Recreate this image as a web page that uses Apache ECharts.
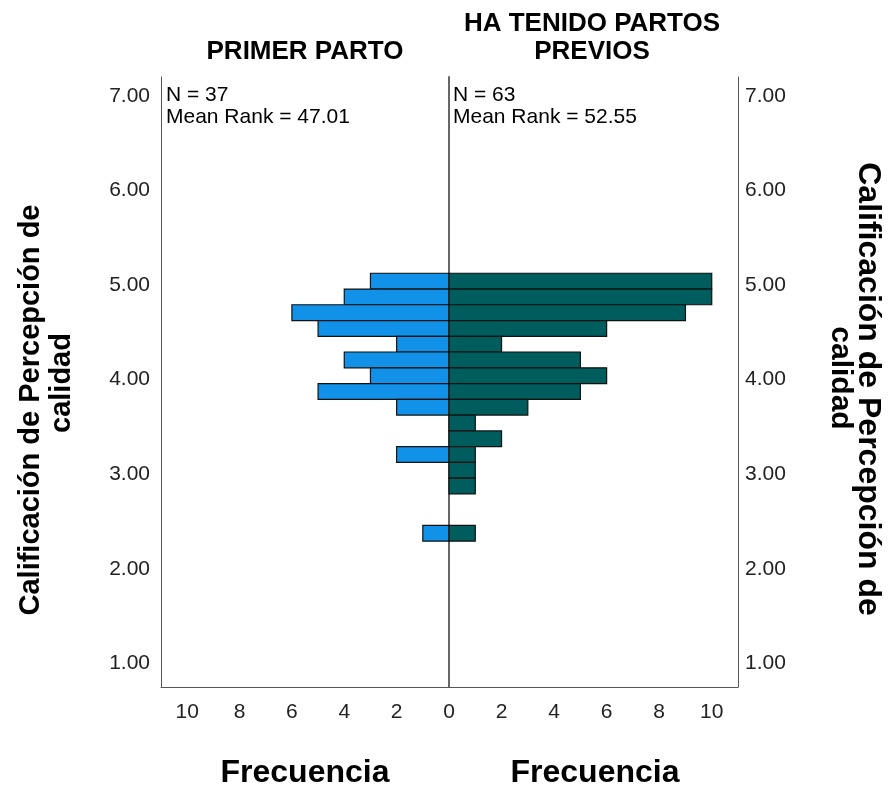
<!DOCTYPE html>
<html><head><meta charset="utf-8">
<script src="https://cdn.jsdelivr.net/npm/echarts@6/dist/echarts.min.js"></script>
<style>html,body{margin:0;padding:0;background:#fff}#c{width:892px;height:790px}</style>
</head><body><div id="c"></div>
<script>
// Histogram bins (value range of each bar)
const binLow  = [4.958, 4.792, 4.625, 4.458, 4.292, 4.125, 3.958, 3.792, 3.625, 3.458, 3.292, 3.125, 2.958, 2.792, 2.625, 2.458, 2.292];
const binHigh = [5.125, 4.958, 4.792, 4.625, 4.458, 4.292, 4.125, 3.958, 3.792, 3.625, 3.458, 3.292, 3.125, 2.958, 2.792, 2.625, 2.458];
// Frequencies
const countPrimer  = [3, 4, 6, 5, 2, 4, 3, 5, 2, 0, 0, 2, 0, 0, 0, 0, 1];
const countPrevios = [10, 10, 9, 6, 2, 5, 6, 5, 3, 1, 2, 1, 1, 1, 0, 0, 1];
// Tick labels
const yTicks = [1, 2, 3, 4, 5, 6, 7];
const xTicksLeft = [2, 4, 6, 8, 10];
const xTicksRight = [0, 2, 4, 6, 8, 10];
// Texts
const panelTitles = ['PRIMER PARTO', 'HA TENIDO PARTOS\nPREVIOS'];
const statsText = ['N = 37\nMean Rank = 47.01', 'N = 63\nMean Rank = 52.55'];
const yTitleLines = ['Calificación de Percepción de', 'calidad'];
const xTitle = 'Frecuencia';

const FONT = '"Liberation Sans", Arial, sans-serif';
const chart = echarts.init(document.getElementById('c'), null, {renderer: 'canvas'});

function barSeries(counts, color, idx) {
  return {
    type: 'custom',
    xAxisIndex: idx,
    yAxisIndex: idx,
    data: counts.map((c, i) => [binLow[i], binHigh[i], c]),
    encode: {x: 2, y: [0, 1]},
    renderItem: function (params, api) {
      const c = api.value(2);
      if (!c) return {type: 'group', children: []};
      const a = api.coord([0, api.value(1)]);
      const b = api.coord([c, api.value(0)]);
      return {
        type: 'rect',
        shape: {x: Math.min(a[0], b[0]), y: a[1], width: Math.abs(b[0] - a[0]), height: b[1] - a[1]},
        style: {fill: color, stroke: '#111', lineWidth: 1.2}
      };
    }
  };
}

const yLabel = {customValues: yTicks, formatter: v => Number(v).toFixed(2), fontSize: 21, color: '#222', fontFamily: FONT};
const yAxisBase = {
  type: 'value', min: 0.75, max: 7.2,
  axisLine: {show: true, onZero: false, lineStyle: {color: '#555', width: 1}},
  axisTick: {show: false},
  splitLine: {show: false}
};
const xAxisBase = {
  type: 'value', min: 0, max: 11,
  axisLine: {show: true, onZero: false, lineStyle: {color: '#555', width: 1}},
  axisTick: {show: false},
  splitLine: {show: false}
};
const xLabel = {fontSize: 21, color: '#222', fontFamily: FONT, margin: 15};

const option = {
  animation: false,
  backgroundColor: '#fff',
  grid: [
    {left: 161, top: 77, width: 288, height: 610},
    {left: 449, top: 77, width: 289, height: 610}
  ],
  xAxis: [
    Object.assign({}, xAxisBase, {gridIndex: 0, inverse: true, axisLabel: Object.assign({customValues: xTicksLeft}, xLabel)}),
    Object.assign({}, xAxisBase, {gridIndex: 1, axisLabel: Object.assign({customValues: xTicksRight}, xLabel)})
  ],
  yAxis: [
    Object.assign({}, yAxisBase, {gridIndex: 0, position: 'left', axisLabel: Object.assign({margin: 11}, yLabel)}),
    Object.assign({}, yAxisBase, {gridIndex: 1, position: 'right', axisLabel: Object.assign({margin: 7}, yLabel)}),
    Object.assign({}, yAxisBase, {gridIndex: 1, position: 'left', axisLine: {show: true, onZero: false, lineStyle: {color: '#666', width: 2}}, axisLabel: {show: false}})
  ],
  series: [
    barSeries(countPrimer, '#1192e8', 0),
    barSeries(countPrevios, '#005d5d', 1)
  ],
  graphic: [
    {type: 'text', x: 305, y: 52, style: {text: panelTitles[0], font: 'bold 26px ' + FONT, align: 'center', verticalAlign: 'middle', fill: '#000'}},
    {type: 'text', x: 592, y: 38, style: {text: panelTitles[1], font: 'bold 26px ' + FONT, lineHeight: 28, align: 'center', verticalAlign: 'middle', fill: '#000'}},
    {type: 'text', x: 166, y: 84, style: {text: statsText[0], font: '21px ' + FONT, lineHeight: 22, align: 'left', verticalAlign: 'top', fill: '#000'}},
    {type: 'text', x: 453, y: 84, style: {text: statsText[1], font: '21px ' + FONT, lineHeight: 22, align: 'left', verticalAlign: 'top', fill: '#000'}},
    {type: 'text', x: 31, y: 410, rotation: Math.PI / 2, style: {text: yTitleLines[0], font: 'bold 29px ' + FONT, align: 'center', verticalAlign: 'middle', fill: '#000'}},
    {type: 'text', x: 62, y: 383, rotation: Math.PI / 2, style: {text: yTitleLines[1], font: 'bold 29px ' + FONT, align: 'center', verticalAlign: 'middle', fill: '#000'}},
    {type: 'text', x: 868, y: 389, rotation: -Math.PI / 2, style: {text: yTitleLines[0], font: 'bold 32px ' + FONT, align: 'center', verticalAlign: 'middle', fill: '#000'}},
    {type: 'text', x: 840, y: 378, rotation: -Math.PI / 2, style: {text: yTitleLines[1], font: 'bold 30px ' + FONT, align: 'center', verticalAlign: 'middle', fill: '#000'}},
    {type: 'text', x: 305, y: 773, style: {text: xTitle, font: 'bold 32px ' + FONT, align: 'center', verticalAlign: 'middle', fill: '#000'}},
    {type: 'text', x: 595, y: 773, style: {text: xTitle, font: 'bold 32px ' + FONT, align: 'center', verticalAlign: 'middle', fill: '#000'}}
  ]
};
chart.setOption(option);
</script>
</body></html>
